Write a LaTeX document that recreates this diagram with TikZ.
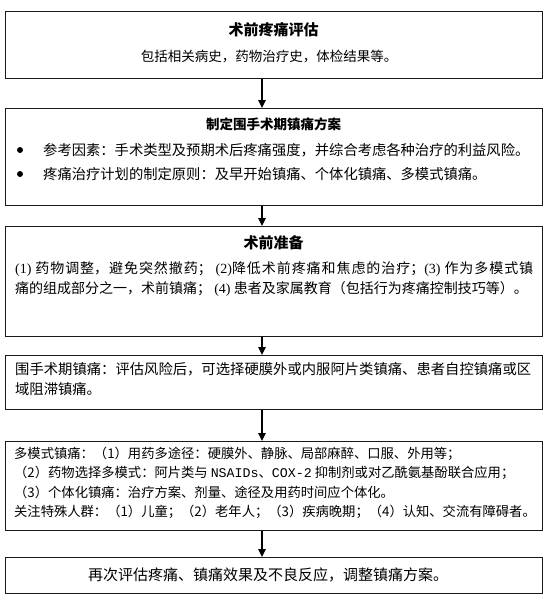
\documentclass[tikz,border=0pt]{standalone}
\usepackage{fontspec}
\setmainfont{Noto Sans CJK SC}
\newfontfamily\latn{Liberation Serif}
\newfontfamily\mono{Liberation Mono}
\usetikzlibrary{arrows.meta}
\XeTeXlinebreaklocale "zh"
\XeTeXlinebreakskip=0pt plus 2pt
\setlength{\parindent}{0pt}
\tikzset{
  box/.style={draw=black!90, line width=1.3pt, inner sep=0pt, anchor=north west},
  arr/.style={-{Triangle[length=8pt,width=7.5pt]}, line width=1.6pt},
  txt/.style={inner sep=0pt, text=black},
  dot/.style={circle, fill=black, inner sep=0pt, minimum size=6pt},
  para/.style={txt, anchor=north west, align=justify}
}
\begin{document}
\begin{tikzpicture}[x=1pt,y=-1pt]
\fill[white] (0,0) rectangle (547,600);
\useasboundingbox (0,0) rectangle (547,600);
% boxes
\node[box, minimum width=537pt, minimum height=67pt] (b1) at (5,11) {};
\node[box, minimum width=537pt, minimum height=97pt] (b2) at (5,108) {};
\node[box, minimum width=537pt, minimum height=110pt] (b3) at (5,226) {};
\node[box, minimum width=537pt, minimum height=54pt] (b4) at (5,355) {};
\node[box, minimum width=537pt, minimum height=89pt] (b5) at (5,441) {};
\node[box, minimum width=537pt, minimum height=36pt] (b6) at (5,557) {};
% box 1
\node[txt, font=\fontsize{15}{15}\selectfont\bfseries] (t1) at (273.5,30) {术前疼痛评估};
\node[txt, font=\fontsize{13.5}{15}\selectfont] (s1) at (269,57) {包括相关病史，药物治疗史，体检结果等。};
% box 2
\node[txt, font=\fontsize{13.5}{15}\selectfont\bfseries] (t2) at (273.5,124) {制定围手术期镇痛方案};
\node[dot] (d1) at (20,150) {};
\node[dot] (d2) at (20,174) {};
\node[txt, anchor=west, font=\fontsize{14.3}{15}\selectfont] (p1) at (43,150) {参考因素：手术类型及预期术后疼痛强度，并综合考虑各种治疗的利益风险。};
\node[txt, anchor=west, font=\fontsize{14.3}{15}\selectfont] (p2) at (43,174) {疼痛治疗计划的制定原则：及早开始镇痛、个体化镇痛、多模式镇痛。};
% box 3
\node[txt, font=\fontsize{15}{15}\selectfont\bfseries] (t3) at (273.5,243) {术前准备};
\node[para, text width=518pt, font=\fontsize{14}{20}\selectfont] (p3) at (15,261) {{\latn (1)} 药物调整，避免突然撤药；\ {\latn (2)}降低术前疼痛和焦虑的治疗；{\latn (3)} 作为多模式镇\linebreak 痛的组成部分之一，术前镇痛；\ {\latn (4)} 患者及家属教育（包括行为疼痛控制技巧等）。};
% box 4
\node[para, text width=516pt, font=\fontsize{14.3}{20}\selectfont] (p4) at (15,362.5) {围手术期镇痛：评估风险后，可选择硬膜外或内服阿片类镇痛、患者自控镇痛或区\linebreak 域阻滞镇痛。};
% box 5
\node[txt, anchor=north west, align=left, font=\fontsize{13.3}{19.5}\selectfont] (p5) at (14,446.5) {多模式镇痛：（1）用药多途径：硬膜外、静脉、局部麻醉、口服、外用等；\\（2）药物选择多模式：阿片类与 {\mono NSAIDs}、{\mono COX-2} 抑制剂或对乙酰氨基酚联合应用；\\（3）个体化镇痛：治疗方案、剂量、途径及用药时间应个体化。\\关注特殊人群：（1）儿童；（2）老年人；（3）疾病晚期；（4）认知、交流有障碍者。};
% box 6
\node[txt, font=\fontsize{15}{15}\selectfont] (p6) at (268,575) {再次评估疼痛、镇痛效果及不良反应，调整镇痛方案。};
% arrows
\coordinate (ax) at (262,0);
\draw[arr] (b1.south -| ax) -- (b2.north -| ax);
\draw[arr] (b2.south -| ax) -- (b3.north -| ax);
\draw[arr] (b3.south -| ax) -- (b4.north -| ax);
\draw[arr] (b4.south -| ax) -- (b5.north -| ax);
\draw[arr] (b5.south -| ax) -- (b6.north -| ax);
\end{tikzpicture}
\end{document}
